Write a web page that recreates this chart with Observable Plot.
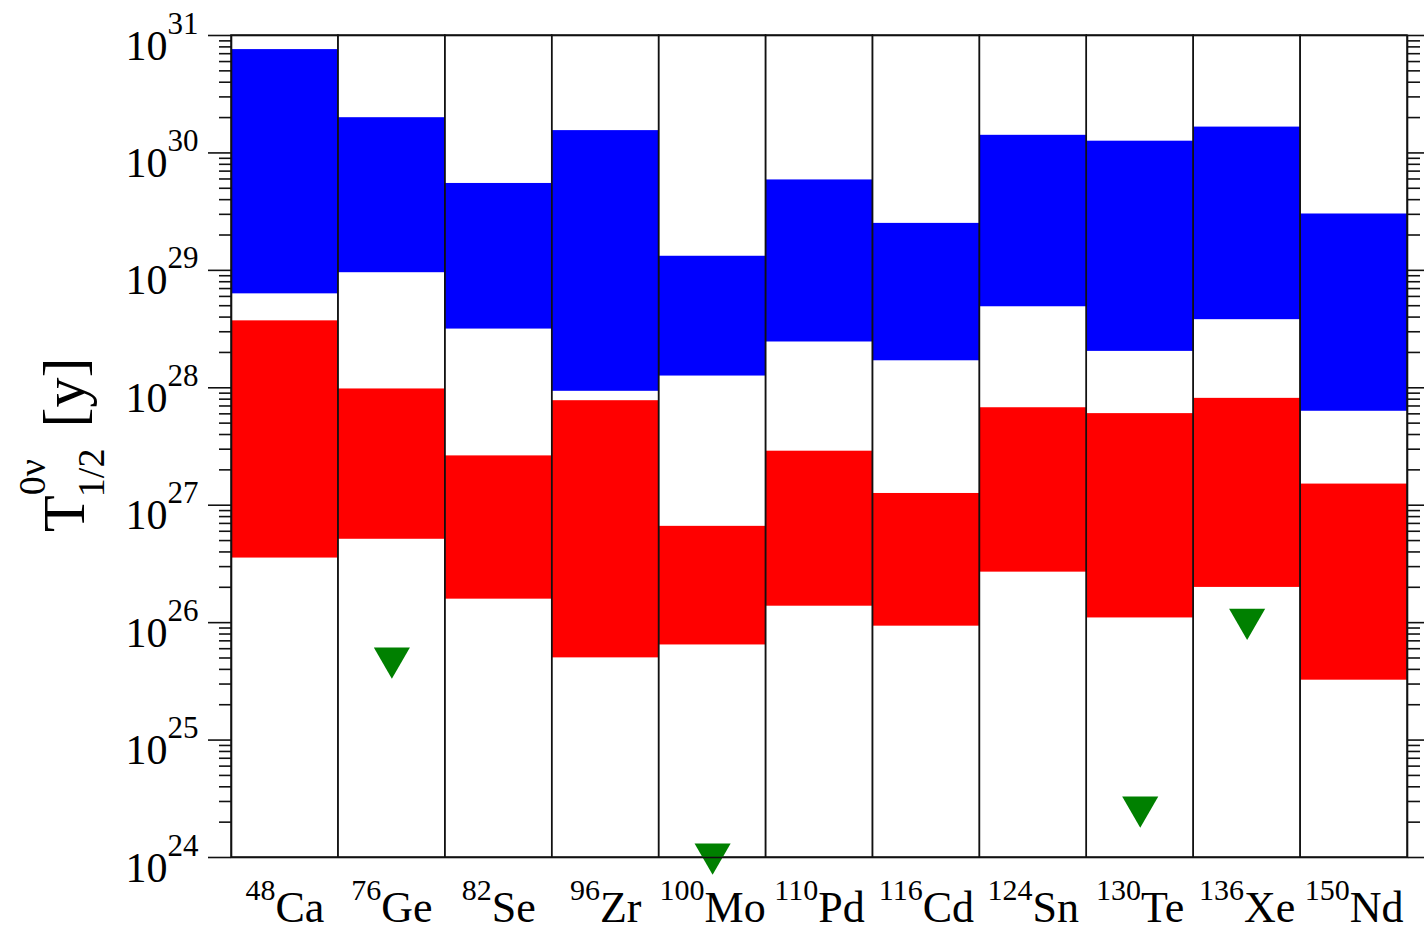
<!DOCTYPE html>
<html>
<head>
<meta charset="utf-8">
<script src="https://cdn.jsdelivr.net/npm/d3@7"></script>
<script src="https://cdn.jsdelivr.net/npm/@observablehq/plot@0.6"></script>
<style>
  body { margin: 0; background: #fff; }
  #chart svg { display: block; }
</style>
</head>
<body>
<div id="chart"></div>
<script>
// ---- data (log10 of half-life in years) ----
const massNumbers = ["48", "76", "82", "96", "100", "110", "116", "124", "130", "136", "150"];
const elements    = ["Ca", "Ge", "Se", "Zr", "Mo", "Pd", "Cd", "Sn", "Te", "Xe", "Nd"];
const blueHighExp = [30.88, 30.30, 29.74, 30.19, 29.12, 29.77, 29.40, 30.15, 30.10, 30.22, 29.48];
const blueLowExp  = [28.80, 28.98, 28.50, 27.97, 28.10, 28.39, 28.23, 28.69, 28.31, 28.58, 27.80];
const redHighExp  = [28.57, 27.99, 27.42, 27.89, 26.82, 27.46, 27.10, 27.83, 27.78, 27.91, 27.18];
const redLowExp   = [26.55, 26.71, 26.20, 25.70, 25.81, 26.14, 25.97, 26.43, 26.04, 26.30, 25.51];
const limitIsotopes = ["76Ge", "100Mo", "130Te", "136Xe"];
const limitExp      = [25.70, 24.03, 24.43, 26.03];
const yDomainExp = [24, 31];
const majorExps = [24, 25, 26, 27, 28, 29, 30, 31];
const minorMantissas = [2, 3, 4, 5, 6, 7, 8, 9];

// ---- tables built from the arrays ----
const isotopes = massNumbers.map((m, i) => m + elements[i]);
const bands = isotopes.map((iso, i) => ({
  iso,
  blueLo: 10 ** blueLowExp[i], blueHi: 10 ** blueHighExp[i],
  redLo: 10 ** redLowExp[i], redHi: 10 ** redHighExp[i]
}));
const cells = isotopes.map(iso => ({iso, lo: 10 ** yDomainExp[0], hi: 10 ** yDomainExp[1]}));
const limits = limitIsotopes.map((iso, i) => ({iso, val: 10 ** limitExp[i]}));
const majors = majorExps.map(e => 10 ** e);
const minors = [];
for (let e = yDomainExp[0]; e < yDomainExp[1]; e++) for (const m of minorMantissas) minors.push(m * 10 ** e);

const ink = "#111";
const chart = Plot.plot({
  width: 1424,
  height: 931,
  marginTop: 35,
  marginBottom: 74,
  marginLeft: 231,
  marginRight: 17,
  style: {fontFamily: "'Liberation Serif', 'Times New Roman', serif", fontSize: "42px", color: "#000", background: "#fff"},
  x: {type: "band", domain: isotopes, padding: 0, round: false, label: null},
  y: {type: "log", domain: [10 ** yDomainExp[0], 10 ** yDomainExp[1]], label: null},
  marks: [
    Plot.barY(bands, {x: "iso", y1: "blueLo", y2: "blueHi", fill: "#0000ff", inset: 0}),
    Plot.barY(bands, {x: "iso", y1: "redLo", y2: "redHi", fill: "#ff0000", inset: 0}),
    Plot.barY(cells, {x: "iso", y1: "lo", y2: "hi", fill: "none", stroke: ink, strokeWidth: 1.5, inset: 0}),
    Plot.dot(limits, {x: "iso", y: "val", symbol: "triangle", r: 13.4, fill: "#008000", rotate: 180}),
    Plot.frame({stroke: ink, strokeWidth: 1.6}),
    Plot.axisY(minors, {anchor: "left", tickSize: 12, strokeWidth: 1.6, stroke: ink, tickFormat: () => "", label: null}),
    Plot.axisY(majors, {anchor: "left", tickSize: 23, tickPadding: 10, strokeWidth: 1.6, stroke: ink,
      tickFormat: d => "10^" + Math.round(Math.log10(d)), label: null}),
    Plot.axisY(minors, {anchor: "right", tickSize: 12, strokeWidth: 1.6, stroke: ink, tickFormat: () => "", label: null}),
    Plot.axisY(majors, {anchor: "right", tickSize: 17, strokeWidth: 1.6, stroke: ink, tickFormat: () => "", label: null}),
    Plot.axisX({anchor: "bottom", tickSize: 0, tickPadding: 0, label: null,
      tickFormat: d => massNumbers[isotopes.indexOf(d)] + "|" + elements[isotopes.indexOf(d)]})
  ]
});
document.getElementById("chart").appendChild(chart);

const svg = d3.select(chart);
// y tick labels: 10 with superscript exponent
svg.selectAll('g[aria-label="y-axis tick label"] text').each(function () {
  const t = d3.select(this);
  const s = t.text();
  if (!s.includes("^")) return;
  const [base, exp] = s.split("^");
  t.text(null).attr("y", null).attr("dy", null);
  t.append("tspan").attr("dy", 24).attr("font-size", 42).text(base);
  t.append("tspan").attr("dy", -26).attr("font-size", 31).text(exp);
});
// x tick labels: superscript mass number + element
svg.selectAll('g[aria-label="x-axis tick label"] text').each(function () {
  const t = d3.select(this);
  const [mass, el] = t.text().split("|");
  t.text(null).attr("y", null).attr("dy", null);
  t.append("tspan").attr("dy", 42).attr("font-size", 30).text(mass);
  t.append("tspan").attr("dy", 22).attr("font-size", 44).text(el);
});
// y-axis title: T^{0ν}_{1/2} [y]
const title = svg.append("text")
  .attr("transform", "translate(84,532) rotate(-90)")
  .attr("text-anchor", "start")
  .attr("fill", "#000")
  .attr("font-family", "'Liberation Serif', 'Times New Roman', serif")
  .attr("font-size", 60);
title.append("tspan").text("T");
title.append("tspan").attr("font-size", 38).attr("dy", -39).text("0ν");
title.append("tspan").attr("font-size", 38).attr("dx", -38).attr("dy", 59).text("1/2");
title.append("tspan").attr("font-size", 60).attr("dx", 6).attr("dy", -20).text(" [y]");
</script>
</body>
</html>
